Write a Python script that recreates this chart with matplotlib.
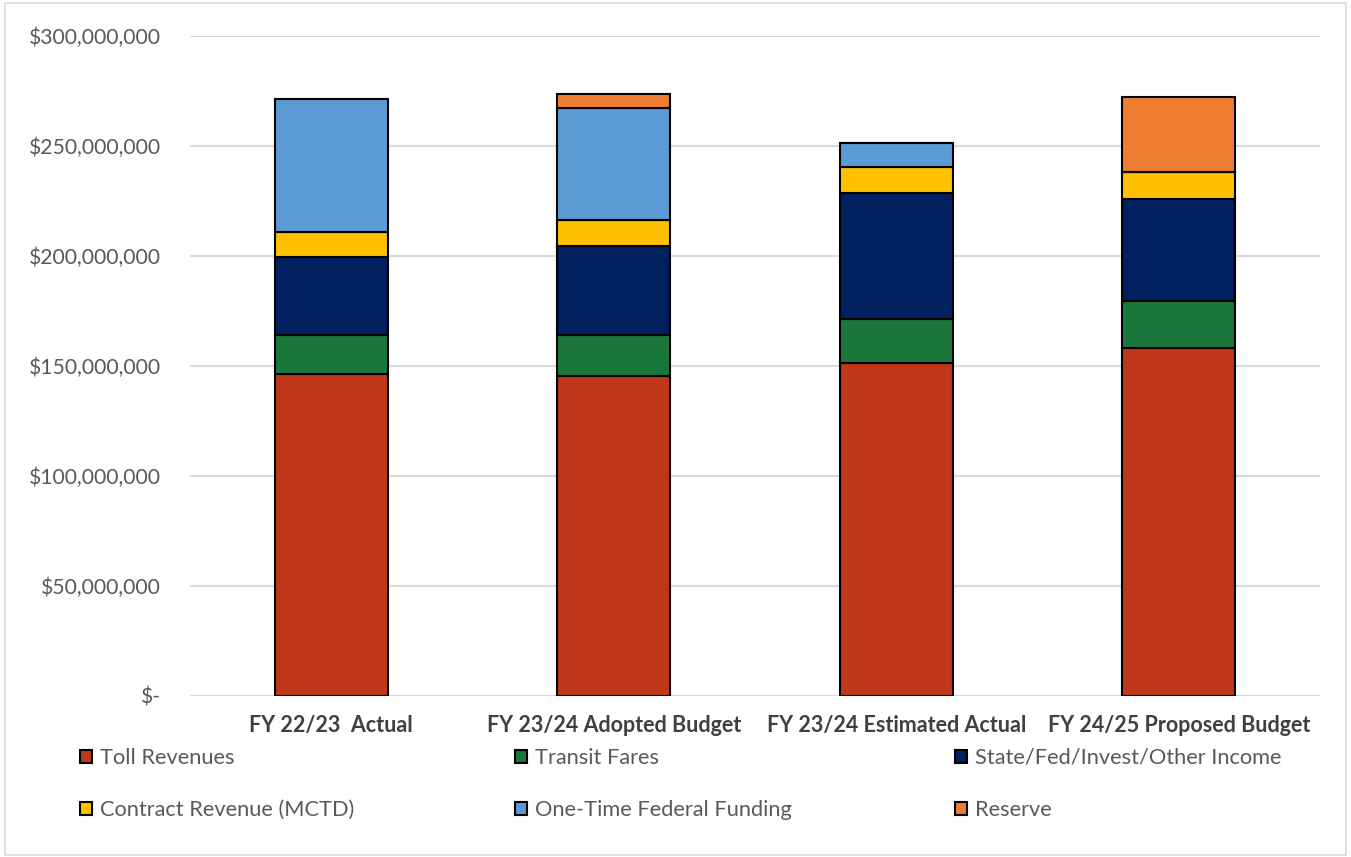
import matplotlib
matplotlib.use("Agg")
import matplotlib.pyplot as plt
import numpy as np
from matplotlib.patches import Rectangle
from matplotlib.ticker import FuncFormatter

plt.rcParams['font.family'] = ['Lato', 'DejaVu Sans']

categories = ["FY 22/23  Actual", "FY 23/24 Adopted Budget",
              "FY 23/24 Estimated Actual", "FY 24/25 Proposed Budget"]

# Revenue components in dollars
toll_revenues = [146_100_000, 145_500_000, 151_100_000, 158_000_000]
transit_fares = [17_900_000, 18_500_000, 20_100_000, 21_500_000]
state_fed_other = [35_300_000, 40_500_000, 57_200_000, 46_400_000]
contract_mctd = [11_600_000, 11_700_000, 11_800_000, 12_000_000]
one_time_federal = [60_300_000, 50_900_000, 10_900_000, 0]
reserve = [0, 6_400_000, 0, 34_400_000]

series_names = ["Toll Revenues", "Transit Fares", "State/Fed/Invest/Other Income",
                "Contract Revenue (MCTD)", "One-Time Federal Funding", "Reserve"]
series_values = [toll_revenues, transit_fares, state_fed_other,
                 contract_mctd, one_time_federal, reserve]
colors = ["#C0371A", "#1B763B", "#002060", "#FFC000", "#5B9BD5", "#ED7D31"]

W, H = 1351, 857
fig = plt.figure(figsize=(W / 100, H / 100), dpi=100)
ax = fig.add_axes([190 / W, 1 - 695.7 / H, 1130 / W, 660 / H])

x = np.arange(len(categories))
bottom = np.zeros(len(categories))
containers = []
for name, vals, col in zip(series_names, series_values, colors):
    vals = np.array(vals, dtype=float)
    c = ax.bar(x, vals, width=0.4, bottom=bottom, color=col,
               edgecolor="black", linewidth=1.5, label=name, zorder=3)
    containers.append(c)
    bottom += vals

ax.set_xlim(-0.5, len(categories) - 0.5)
ax.set_ylim(0, 300_000_000)
ax.set_yticks(np.arange(0, 300_000_001, 50_000_000))


def money(v, pos):
    return "$-" if v == 0 else f"${v:,.0f}"


ax.yaxis.set_major_formatter(FuncFormatter(money))
ax.grid(axis="y", color="#D9D9D9", linewidth=1.5, zorder=0)
ax.set_axisbelow(True)
for s in ax.spines.values():
    s.set_visible(False)
ax.tick_params(axis="y", length=0, pad=21, labelsize=15.2, labelcolor="#595959")
ax.tick_params(axis="x", length=0, pad=14, labelsize=15.5, labelcolor="#404040")
ax.set_xticks(x)
ax.set_xticklabels(categories, fontweight="bold")

# Legend laid out in three equal-width columns, two rows
columns = [(0, 3), (1, 4), (2, 5)]
col_x = [80, 515, 955]
for (i, j), cx in zip(columns, col_x):
    leg = fig.legend([containers[i], containers[j]],
                     [series_names[i], series_names[j]],
                     loc="upper left", bbox_to_anchor=(cx / W, 1 - 748 / H),
                     frameon=False, fontsize=15.7, labelcolor="#595959",
                     handlelength=0.57, handleheight=0.57, handletextpad=0.35,
                     labelspacing=1.47, borderpad=0, borderaxespad=0)

fig.patches.append(Rectangle((5 / W, 2 / H), (W - 10) / W, (H - 5) / H,
                             transform=fig.transFigure, fill=False,
                             edgecolor="#D9D9D9", linewidth=1.2))

fig.savefig("out.png", dpi=100, facecolor="white")
